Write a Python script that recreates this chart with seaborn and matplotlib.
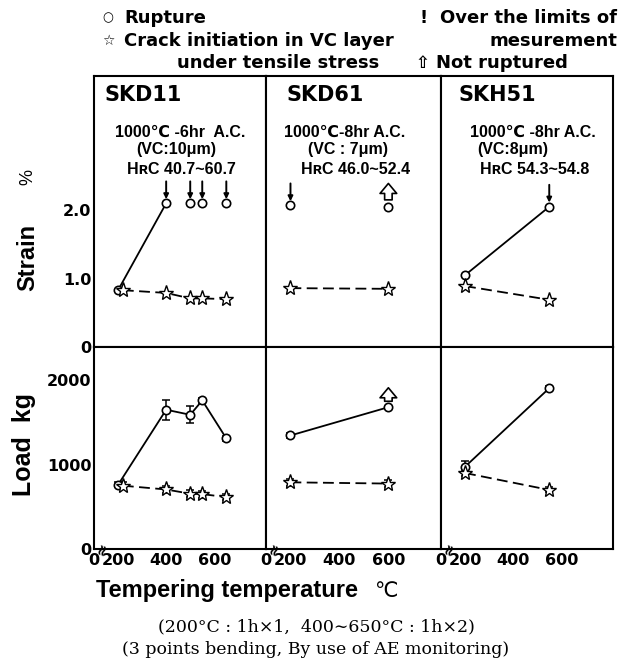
import numpy as np
import pandas as pd
import matplotlib
matplotlib.use("Agg")
import matplotlib.pyplot as plt
import seaborn as sns

# ---------------- data ----------------
steels = ["SKD11", "SKD61", "SKH51"]
conditions = ["1000℃ -6hr  A.C.", "1000℃-8hr A.C.", "1000℃ -8hr A.C."]
vc_layers = ["(VC:10μm)", "(VC : 7μm)", "(VC:8μm)"]
hardness = ["HʀC 40.7~60.7", "HʀC 46.0~52.4", "HʀC 54.3~54.8"]

# SKD11
skd11_temp = [200, 400, 500, 550, 650]
skd11_crack_temp = [220, 400, 500, 550, 650]
skd11_strain_rupture = [0.83, 2.10, 2.10, 2.10, 2.10]
skd11_strain_over = [False, True, True, True, True]
skd11_strain_crack = [0.83, 0.79, 0.71, 0.71, 0.70]
skd11_load_rupture = [760, 1650, 1590, 1760, 1310]
skd11_load_rupture_err = [30, 120, 100, 30, 30]
skd11_load_crack = [750, 705, 655, 650, 615]
skd11_load_crack_err = [40, 40, 40, 40, 40]

# SKD61
skd61_temp = [200, 600]
skd61_crack_temp = [200, 600]
skd61_strain_rupture = [2.07, 2.05]
skd61_strain_over = [True, False]
skd61_strain_crack = [0.86, 0.85]
skd61_load_rupture = [1345, 1680]
skd61_load_rupture_err = [25, 0]
skd61_load_crack = [790, 775]
skd61_load_crack_err = [40, 45]
skd61_not_ruptured = [False, True]

# SKH51
skh51_temp = [200, 550]
skh51_crack_temp = [200, 550]
skh51_strain_rupture = [1.05, 2.05]
skh51_strain_over = [False, True]
skh51_strain_crack = [0.89, 0.69]
skh51_load_rupture = [975, 1905]
skh51_load_rupture_err = [70, 25]
skh51_load_crack = [900, 700]
skh51_load_crack_err = [40, 30]

# how many leading rupture points are joined by a line in the strain panel
strain_line_points = [2, 0, 2]

x_ticks = [200, 400, 600]
x_tick_labels = ["0", "200", "400", "600"]

data = [
    dict(t=skd11_temp, tc=skd11_crack_temp, sr=skd11_strain_rupture, so=skd11_strain_over,
         sc=skd11_strain_crack, lr=skd11_load_rupture, lre=skd11_load_rupture_err,
         lc=skd11_load_crack, lce=skd11_load_crack_err, nr=[False] * 5),
    dict(t=skd61_temp, tc=skd61_crack_temp, sr=skd61_strain_rupture, so=skd61_strain_over,
         sc=skd61_strain_crack, lr=skd61_load_rupture, lre=skd61_load_rupture_err,
         lc=skd61_load_crack, lce=skd61_load_crack_err, nr=skd61_not_ruptured),
    dict(t=skh51_temp, tc=skh51_crack_temp, sr=skh51_strain_rupture, so=skh51_strain_over,
         sc=skh51_strain_crack, lr=skh51_load_rupture, lre=skh51_load_rupture_err,
         lc=skh51_load_crack, lce=skh51_load_crack_err, nr=[False, False]),
]

# ---------------- style ----------------
sns.set_style("white")
plt.rcParams["font.family"] = ["Liberation Sans", "DejaVu Sans"]
plt.rcParams["font.weight"] = "bold"
plt.rcParams["axes.linewidth"] = 1.5
for k in ["text.color", "axes.labelcolor", "xtick.color", "ytick.color", "axes.edgecolor"]:
    plt.rcParams[k] = "black"

WIDE = ["DejaVu Sans"]

W, H = 631, 662
fig = plt.figure(figsize=(W / 100, H / 100), dpi=100)
gs = fig.add_gridspec(2, 3, left=94 / W, right=613 / W, top=1 - 76 / H, bottom=1 - 549 / H,
                      height_ratios=[271, 202], width_ratios=[172, 175, 172],
                      wspace=0, hspace=0)

XMIN, XMAX = 100, 815
dash = (0, (6, 3))
circ_kw = dict(marker="o", markersize=6, markerfacecolor="white", markeredgecolor="k",
               markeredgewidth=1.2)
star_kw = dict(marker="*", markersize=11, markerfacecolor="white", markeredgecolor="k",
               markeredgewidth=1.0)
TICK_FS = 11.5
SUB_FS = 11.5

for j, d in enumerate(data):
    ax_s = fig.add_subplot(gs[0, j])
    ax_l = fig.add_subplot(gs[1, j])

    # ---- strain ----
    n = strain_line_points[j]
    if n > 0:
        sns.lineplot(x=d["t"][:n], y=d["sr"][:n], ax=ax_s, color="k", lw=1.3,
                     sort=False, estimator=None)
    sns.lineplot(x=d["t"], y=d["sr"], ax=ax_s, color="k", lw=0, sort=False,
                 estimator=None, **circ_kw)
    sns.lineplot(x=d["tc"], y=d["sc"], ax=ax_s, color="k", lw=1.3, linestyle=dash,
                 sort=False, estimator=None, **star_kw)
    for x, y, ov, nr in zip(d["t"], d["sr"], d["so"], d["nr"]):
        if ov:
            ax_s.annotate("", xy=(x, y + 0.06), xytext=(x, y + 0.32),
                          arrowprops=dict(arrowstyle="-|>", lw=1.4, color="k",
                                          mutation_scale=7, shrinkA=0, shrinkB=0))
    if j == 1:
        x, y = d["t"][1], d["sr"][1]
        ax_s.annotate("", xy=(x, y + 0.34), xytext=(x, y + 0.1),
                      arrowprops=dict(arrowstyle="simple,head_width=1.0,head_length=0.6,tail_width=0.45",
                                      fc="white", ec="k", lw=1.2, mutation_scale=12,
                                      shrinkA=0, shrinkB=0))
    ax_s.set_xlim(XMIN, XMAX)
    ax_s.set_ylim(0, 3.96)
    ax_s.set_yticks([0, 1.0, 2.0])
    ax_s.set_xticks([])
    ax_s.set_xlabel("")
    ax_s.set_ylabel("")
    ax_s.tick_params(axis="y", direction="in", length=6, width=1.2, labelsize=TICK_FS, pad=2)
    if j == 0:
        ax_s.set_yticklabels(["0", "1.0", "2.0"], fontweight="bold", family=WIDE)
    else:
        ax_s.set_yticklabels([])

    ax_s.text([0.06, 0.12, 0.10][j], 0.93, steels[j], transform=ax_s.transAxes,
              fontsize=15, fontweight="bold", ha="left", va="center", family=WIDE)
    ax_s.text([0.50, 0.45, 0.535][j], 0.793, conditions[j], transform=ax_s.transAxes,
              fontsize=SUB_FS, fontweight="bold", ha="center", va="center")
    ax_s.text([0.477, 0.469, 0.42][j], 0.727, vc_layers[j], transform=ax_s.transAxes,
              fontsize=SUB_FS, fontweight="bold", ha="center", va="center")
    ax_s.text([0.51, 0.514, 0.547][j], 0.655, hardness[j], transform=ax_s.transAxes,
              fontsize=SUB_FS, fontweight="bold", ha="center", va="center")

    # ---- load ----
    sns.lineplot(x=d["t"], y=d["lr"], ax=ax_l, color="k", lw=1.3, sort=False,
                 estimator=None, **circ_kw)
    ax_l.errorbar(d["t"], d["lr"], yerr=d["lre"], fmt="none", ecolor="k",
                  elinewidth=1.1, capsize=3, capthick=1.1, zorder=1)
    sns.lineplot(x=d["tc"], y=d["lc"], ax=ax_l, color="k", lw=1.3, linestyle=dash,
                 sort=False, estimator=None, **star_kw)
    ax_l.errorbar(d["tc"], d["lc"], yerr=d["lce"], fmt="none", ecolor="k",
                  elinewidth=1.1, capsize=3, capthick=1.1, zorder=1)
    if j == 1:
        x, y = d["t"][1], d["lr"][1]
        ax_l.annotate("", xy=(x, y + 230), xytext=(x, y + 70),
                      arrowprops=dict(arrowstyle="simple,head_width=1.0,head_length=0.6,tail_width=0.45",
                                      fc="white", ec="k", lw=1.2, mutation_scale=12,
                                      shrinkA=0, shrinkB=0))
    ax_l.set_xlim(XMIN, XMAX)
    ax_l.set_ylim(0, 2393)
    ax_l.set_yticks([0, 1000, 2000])
    ax_l.set_xticks([XMIN] + x_ticks)
    ax_l.set_xticklabels(x_tick_labels, fontweight="bold", family=WIDE)
    ax_l.set_xlabel("")
    ax_l.set_ylabel("")
    ax_l.tick_params(axis="y", direction="in", length=6, width=1.2, labelsize=TICK_FS, pad=2)
    ax_l.tick_params(axis="x", direction="in", length=6, width=1.2, labelsize=TICK_FS, pad=3)
    if j == 0:
        ax_l.set_yticklabels(["0", "1000", "2000"], fontweight="bold", family=WIDE)
    else:
        ax_l.set_yticklabels([])
    # axis-break mark
    ax_l.text(0.045, 0.0, "≈", transform=ax_l.transAxes, rotation=70, fontsize=11,
              ha="center", va="center", fontweight="bold", family="DejaVu Sans")

# axis labels
fig.text(28 / W, 1 - 257 / H, "Strain", rotation=90, fontsize=17, fontweight="bold",
         ha="center", va="center")
fig.text(28 / W, 1 - 177 / H, "%", rotation=90, fontsize=13, ha="center", va="center",
         fontweight="normal")
fig.text(24 / W, 1 - 445 / H, "Load  kg", rotation=90, fontsize=18, fontweight="bold",
         ha="center", va="center")
fig.text(96 / W, 1 - 590 / H, "Tempering temperature", fontsize=17,
         fontweight="bold", ha="left", va="center")
fig.text(386 / W, 1 - 591 / H, "℃", fontsize=15, fontweight="normal",
         ha="center", va="center", family="DejaVu Sans")
SERIF = ["DejaVu Serif"]
fig.text(316 / W, 1 - 627 / H, "(200°C : 1h×1,  400∼650°C : 1h×2)", fontsize=12.5,
         ha="center", va="center", family=SERIF, fontweight="normal")
fig.text(316 / W, 1 - 649 / H, "(3 points bending, By use of AE monitoring)", fontsize=12.5,
         ha="center", va="center", family=SERIF, fontweight="normal")

# legend block
LEG_FS = 13
fig.text(108 / W, 1 - 18 / H, "○", fontsize=9, ha="center", va="center",
         family="DejaVu Sans")
fig.text(124 / W, 1 - 18 / H, "Rupture", fontsize=LEG_FS, fontweight="bold",
         ha="left", va="center", family=WIDE)
fig.text(108 / W, 1 - 41 / H, "☆", fontsize=10, ha="center", va="center",
         family="DejaVu Sans")
fig.text(124 / W, 1 - 41 / H, "Crack initiation in VC layer", fontsize=LEG_FS,
         fontweight="bold", ha="left", va="center", family=WIDE)
fig.text(278 / W, 1 - 63 / H, "under tensile stress", fontsize=LEG_FS,
         fontweight="bold", ha="center", va="center", family=WIDE)
fig.text(617 / W, 1 - 18 / H, "Over the limits of", fontsize=LEG_FS, fontweight="bold",
         ha="right", va="center", family=WIDE)
fig.text(424 / W, 1 - 18 / H, "!", fontsize=13, fontweight="bold", ha="center",
         va="center", family=WIDE)
fig.text(617 / W, 1 - 41 / H, "mesurement", fontsize=LEG_FS, fontweight="bold",
         ha="right", va="center", family=WIDE)
fig.text(422 / W, 1 - 63 / H, "⇧", fontsize=12, ha="center", va="center",
         family="DejaVu Sans")
fig.text(436 / W, 1 - 63 / H, "Not ruptured", fontsize=LEG_FS, fontweight="bold",
         ha="left", va="center", family=WIDE)

fig.savefig("out.png", dpi=100)
